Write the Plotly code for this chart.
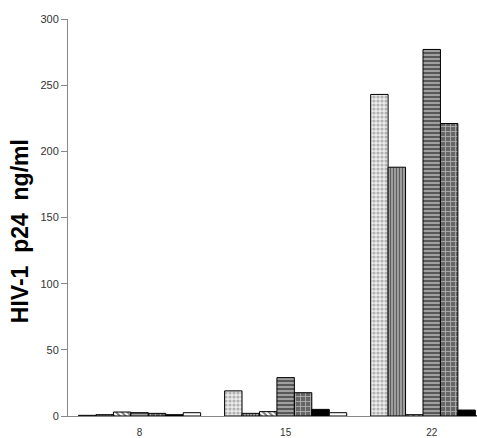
import plotly.graph_objects as go

days = ["8", "15", "22"]
stippled = [0.5, 19, 243]
vertical = [1, 2, 188]
diagonal = [3, 3.3, 1]
horizontal = [2.5, 29, 277]
grid = [2, 17.6, 221]
black = [1, 5, 4.5]
white = [2.5, 2.5, 0]

series = [
    ("stippled", stippled, dict(shape=".", bgcolor="#ebebeb", fgcolor="#7a7a7a", size=4, solidity=0.5)),
    ("vertical", vertical, dict(shape="|", bgcolor="#bbbbbb", fgcolor="black", size=3, solidity=0.55)),
    ("diagonal", diagonal, dict(shape="\\", bgcolor="white", fgcolor="black", size=4, solidity=0.5)),
    ("horizontal", horizontal, dict(shape="-", bgcolor="#a0a0a0", fgcolor="black", size=4, solidity=0.45)),
    ("grid", grid, dict(shape="+", bgcolor="#666666", fgcolor="white", size=5, solidity=0.3)),
    ("black", black, None),
    ("white", white, None),
]

xpos = list(range(len(days)))
fig = go.Figure()
for name, vals, pat in series:
    marker = dict(line=dict(color="black", width=1))
    if pat is not None:
        marker["color"] = pat["bgcolor"]
        marker["pattern"] = pat
    elif name == "black":
        marker["color"] = "black"
    else:
        marker["color"] = "white"
    fig.add_trace(go.Bar(x=xpos, y=vals, name=name, marker=marker))

fig.update_layout(
    width=477, height=438,
    margin=dict(l=68, r=0, t=19, b=22),
    paper_bgcolor="white", plot_bgcolor="white",
    barmode="group", bargap=0.164, bargroupgap=0,
    showlegend=False,
    font=dict(family="Arial, Liberation Sans, sans-serif", color="#333"),
    annotations=[dict(
        text="<b>HIV-1  p24  ng/ml</b>", textangle=-90,
        xref="paper", yref="paper", x=-0.117, y=0.466,
        xanchor="center", yanchor="middle", showarrow=False,
        font=dict(size=23, color="black", family="Liberation Sans, Arial, sans-serif"),
    )],
)
fig.update_xaxes(
    range=[-0.49, 2.31], tickvals=xpos, ticktext=days,
    showline=True, linecolor="#888", linewidth=1, showgrid=False, zeroline=False,
    ticks="outside", ticklen=7, tickcolor="rgba(0,0,0,0)",
    tickfont=dict(size=10, color="#333"),
)
fig.update_yaxes(
    range=[0, 300], tickvals=[0, 50, 100, 150, 200, 250, 300],
    showline=True, linecolor="#888", linewidth=1, showgrid=False, zeroline=False,
    ticks="outside", ticklen=6, tickcolor="#888",
    tickfont=dict(size=11, color="#333"),
)
fig.write_html("out.html")
